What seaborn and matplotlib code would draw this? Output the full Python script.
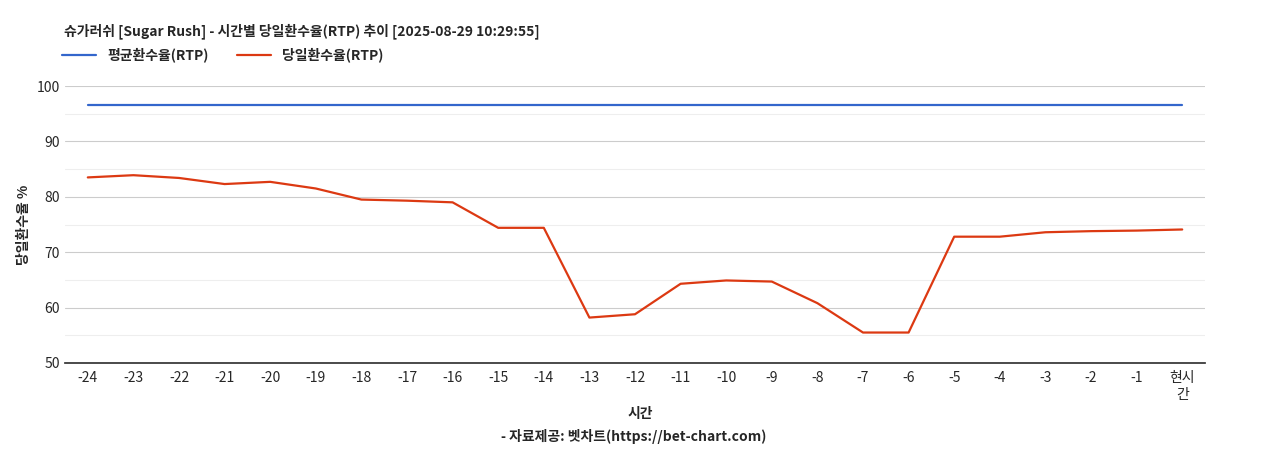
import matplotlib
matplotlib.use("Agg")
import matplotlib.pyplot as plt
import seaborn as sns
import pandas as pd

labels = ["-24","-23","-22","-21","-20","-19","-18","-17","-16","-15","-14","-13","-12","-11","-10","-9","-8","-7","-6","-5","-4","-3","-2","-1","현시\n간"]
daily = [83.5,83.9,83.4,82.3,82.7,81.5,79.5,79.3,79.0,74.4,74.4,58.2,58.8,64.3,64.9,64.7,60.8,55.5,55.5,72.8,72.8,73.6,73.8,73.9,74.1]
avg = [96.5]*25

sns.set_theme(style="white")
plt.rcParams['font.family'] = ['Noto Sans CJK KR', 'DejaVu Sans']

df = pd.DataFrame({"x": range(len(labels)), "avg": avg, "daily": daily})
fig = plt.figure(figsize=(12.68, 4.5), dpi=100)
ax = fig.add_axes([65/1268, 1-363/450, 1140/1268, 277/450])
sns.lineplot(data=df, x="x", y="avg", ax=ax, color="#3366cc", lw=1.6, label="평균환수율(RTP)")
sns.lineplot(data=df, x="x", y="daily", ax=ax, color="#dc3912", lw=1.6, label="당일환수율(RTP)")
ax.set_ylim(50, 100)
ax.set_xlim(-0.5, len(labels)-0.5)
ax.set_yticks([50,60,70,80,90,100])
for v in [55,65,75,85,95]:
    ax.axhline(v, color="#eeeeee", lw=0.8, zorder=0)
ax.grid(axis="y", color="#cccccc", lw=0.8)
ax.set_axisbelow(True)
ax.set_xticks(range(len(labels)))
ax.set_xticklabels(labels, fontsize=10)
ax.tick_params(axis="y", labelsize=10)
for s in ["top","right","left"]:
    ax.spines[s].set_visible(False)
ax.spines["bottom"].set_color("#333333")
ax.tick_params(axis="x", length=0, pad=6)
ax.tick_params(axis="y", length=0)
ax.set_xlabel("")
ax.set_ylabel("당일환수율 %", fontsize=10, fontweight="bold")
fig.text(640/1268, 1-414/450, "시간", ha="center", va="center", fontsize=10, fontweight="bold")
fig.text(0.5, 1-437/450, "- 자료제공: 벳차트(https://bet-chart.com)", ha="center", va="center", fontsize=10, fontweight="bold")
fig.text(64/1268, 1-31/450, "슈가러쉬 [Sugar Rush] - 시간별 당일환수율(RTP) 추이 [2025-08-29 10:29:55]", ha="left", va="center", fontsize=10, fontweight="bold")
ax.legend(loc="center left", bbox_to_anchor=(-0.003, 1+(363-55)/277 - 1 + 0.0), ncol=2, frameon=False, prop={"size": 10, "weight": "bold"}, handlelength=2.5, borderaxespad=0, borderpad=0)
fig.savefig("out.png", dpi=100)
